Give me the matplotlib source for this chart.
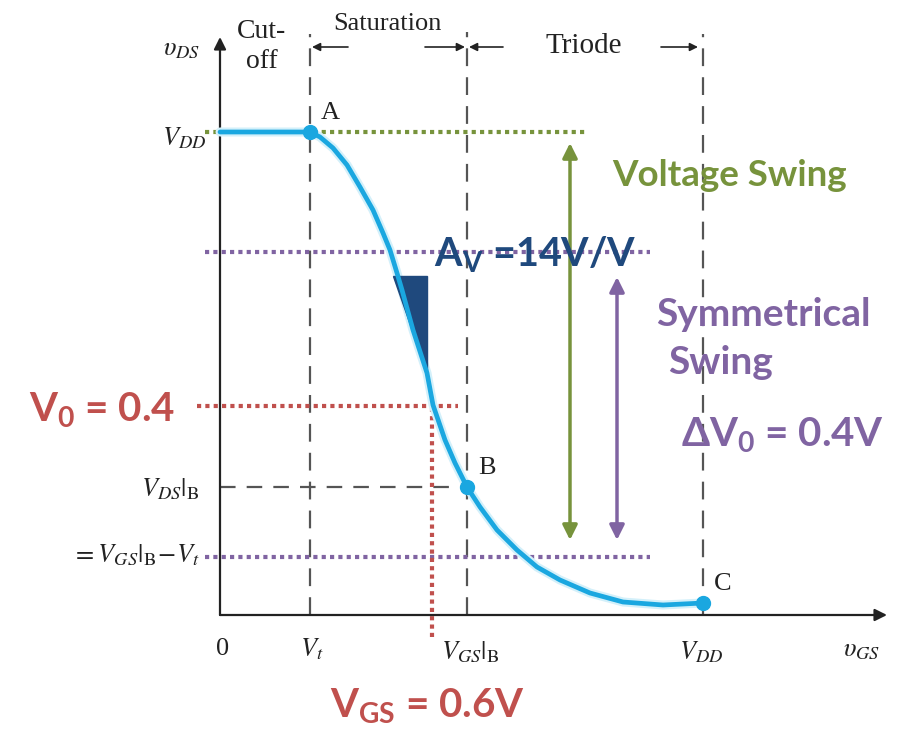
import matplotlib
matplotlib.use("Agg")
import matplotlib.pyplot as plt
from matplotlib.patches import Polygon

plt.rcParams['mathtext.fontset'] = 'stix'
plt.rcParams['mathtext.rm'] = 'Lato:bold'
plt.rcParams['mathtext.it'] = 'Lato:bold'
plt.rcParams['mathtext.bf'] = 'Lato:bold'

# ---- schematic values (units: arbitrary, origin at axes corner) ----
VT = 90          # threshold voltage position on vGS axis
VGS_B = 247      # vGS at point B
VDD_X = 483      # VDD on vGS axis
VDD_Y = 483      # VDD on vDS axis
VDS_B = 128      # vDS at point B
V_LOW = 58       # lower symmetrical swing level (= VGS|B - Vt)
V_HIGH = 363     # upper symmetrical swing level
V0 = 209         # bias output level  (V0 = 0.4)
VGS_BIAS = 212   # bias input level   (VGS = 0.6V)
VC = 12          # vDS at point C

curve_x = [0, 90, 100, 113, 127, 140, 153, 163, 170, 177, 182, 193, 207, 213, 225,
           235, 247, 260, 277, 297, 317, 340, 370, 403, 443, 483]
curve_y = [483, 483, 478, 467, 450, 428, 405, 382, 365, 342, 325, 285, 242, 210, 175,
           152, 128, 108, 85, 65, 48, 35, 22, 13, 10, 12]

points_x = [VT, VGS_B, VDD_X]
points_y = [VDD_Y, VDS_B, VC]
points_lbl = ['A', 'B', 'C']

tri_x = [173, 207, 207]
tri_y = [339, 339, 242]

GREEN = '#77933C'
PURPLE = '#8064A2'
RED = '#C0504D'
NAVY = '#1F497D'
CYAN = '#1AA7E0'
GRAY = '#555555'
INK = '#222222'

fig = plt.figure(figsize=(9.15, 7.3), dpi=100)
ax = fig.add_axes([0, 0, 1, 1])
ax.set_xlim(-220, 695)
ax.set_ylim(-115, 615)
ax.axis('off')

SERIF = 'Liberation Serif'
BOLD = dict(family='Lato', weight='bold', math_fontfamily='custom')

# axes with arrows
ax.annotate('', xy=(0, 578), xytext=(0, 0),
            arrowprops=dict(arrowstyle='-|>', color=INK, lw=1.6, mutation_scale=18, shrinkA=0, shrinkB=0))
ax.annotate('', xy=(667, 0), xytext=(0, 0),
            arrowprops=dict(arrowstyle='-|>', color=INK, lw=1.6, mutation_scale=18, shrinkA=0, shrinkB=0))

# dashed region boundaries
dash = (0, (8, 5))
ax.plot([VT, VT], [0, 581], color=GRAY, lw=1.6, linestyle=dash)
ax.plot([VGS_B, VGS_B], [0, 583], color=GRAY, lw=1.6, linestyle=dash)
ax.plot([VDD_X, VDD_X], [0, 581], color=GRAY, lw=1.6, linestyle=dash)
ax.plot([0, VGS_B], [VDS_B, VDS_B], color=GRAY, lw=1.6, linestyle=(0, (7, 5)))

# dotted guide lines
dot = (0, (1, 1))
ax.plot([-15, 365], [VDD_Y, VDD_Y], color=GREEN, lw=3, linestyle=dot)
ax.plot([-15, 430], [V_HIGH, V_HIGH], color=PURPLE, lw=3, linestyle=dot)
ax.plot([-15, 430], [V_LOW, V_LOW], color=PURPLE, lw=3, linestyle=dot)
ax.plot([-23, 238], [V0, V0], color=RED, lw=3, linestyle=dot)
ax.plot([VGS_BIAS, VGS_BIAS], [-22, 219], color=RED, lw=3, linestyle=dot)

# transfer curve
ax.plot(curve_x, curve_y, color='#D3F0FA', lw=6.5, solid_capstyle='round', solid_joinstyle='round', zorder=3)
ax.plot(curve_x, curve_y, color=CYAN, lw=3.4, solid_capstyle='round', solid_joinstyle='round', zorder=4)
ax.plot(points_x, points_y, 'o', color=CYAN, markersize=10, zorder=5)

# gain triangle
ax.add_patch(Polygon(list(zip(tri_x, tri_y)), closed=True, color=NAVY, zorder=3))

# swing arrows
ax.annotate('', xy=(350, 472), xytext=(350, 75),
            arrowprops=dict(arrowstyle='<|-|>', color=GREEN, lw=2.5, mutation_scale=22, shrinkA=0, shrinkB=0))
ax.annotate('', xy=(397, 338), xytext=(397, 75),
            arrowprops=dict(arrowstyle='<|-|>', color=PURPLE, lw=2.5, mutation_scale=22, shrinkA=0, shrinkB=0))

# region arrows
rk = dict(arrowstyle='-|>', color=INK, lw=1.2, mutation_scale=12, shrinkA=0, shrinkB=0)
ax.annotate('', xy=(VT + 2, 568), xytext=(VT + 38, 568), arrowprops=rk)
ax.annotate('', xy=(VGS_B - 2, 568), xytext=(VGS_B - 42, 568), arrowprops=rk)
ax.annotate('', xy=(VGS_B + 2, 568), xytext=(VGS_B + 36, 568), arrowprops=rk)
ax.annotate('', xy=(VDD_X - 5, 568), xytext=(VDD_X - 42, 568), arrowprops=rk)

ax.text(VT - 48, 583, 'Cut-', family=SERIF, fontsize=20, ha='center', va='center', color=INK)
ax.text(VT - 48, 553, 'off', family=SERIF, fontsize=20, ha='center', va='center', color=INK)
ax.text(167, 591, 'Saturation', family=SERIF, fontsize=19, ha='center', va='center', color=INK)
ax.text(364, 569, 'Triode', family=SERIF, fontsize=21, ha='center', va='center', color=INK)

# axis labels (serif, italic via mathtext)
ms = 19
ax.text(-20, 567, r'$\upsilon_{DS}$', fontsize=ms, ha='right', va='center', color=INK)
ax.text(-14, 477, r'$V_{DD}$', fontsize=ms, ha='right', va='center', color=INK)
ax.text(-20, 126, r'$V_{DS}|_{\mathrm{B}}$', fontsize=ms, ha='right', va='center', color=INK)
ax.text(-20, 60, r'$=V_{GS}|_{\mathrm{B}}\!-\!V_t$', fontsize=ms, ha='right', va='center', color=INK)
ax.text(3, -34, '0', family=SERIF, fontsize=ms, ha='center', va='center', color=INK)
ax.text(VT + 2, -34, r'$V_t$', fontsize=ms, ha='center', va='center', color=INK)
ax.text(VGS_B + 3, -37, r'$V_{GS}|_{\mathrm{B}}$', fontsize=ms, ha='center', va='center', color=INK)
ax.text(VDD_X - 2, -37, r'$V_{DD}$', fontsize=ms, ha='center', va='center', color=INK)
ax.text(642, -34, r'$\upsilon_{GS}$', fontsize=ms, ha='center', va='center', color=INK)

for px, py, lbl in zip(points_x, points_y, points_lbl):
    ax.text(px + 11, py + 8, lbl, family=SERIF, fontsize=19, ha='left', va='bottom', color=INK)

# coloured annotations (Calibri-like bold)
ax.text(510, 429, 'Voltage Swing', fontsize=26.5, ha='center', va='baseline', color=GREEN, **BOLD)
ax.text(436, 289, 'Symmetrical', fontsize=28, ha='left', va='baseline', color=PURPLE, **BOLD)
ax.text(448, 241, 'Swing', fontsize=28, ha='left', va='baseline', color=PURPLE, **BOLD)

ax.text(214, 348, r'A$_{\mathrm{V}}$ =14V/V', fontsize=28.5, ha='left', va='baseline', color=NAVY, **BOLD)
ax.text(-191, 193, r'V$_{\mathrm{0}}$ = 0.4', fontsize=29, ha='left', va='baseline', color=RED, **BOLD)
ax.text(110, -103, r'V$_{\mathrm{GS}}$ = 0.6V', fontsize=29, ha='left', va='baseline', color=RED, **BOLD)
ax.text(461, 168, r'$\Delta$V$_{\mathrm{0}}$ = 0.4V', fontsize=29, ha='left', va='baseline', color=PURPLE, **BOLD)

fig.savefig('out.png', dpi=100)
